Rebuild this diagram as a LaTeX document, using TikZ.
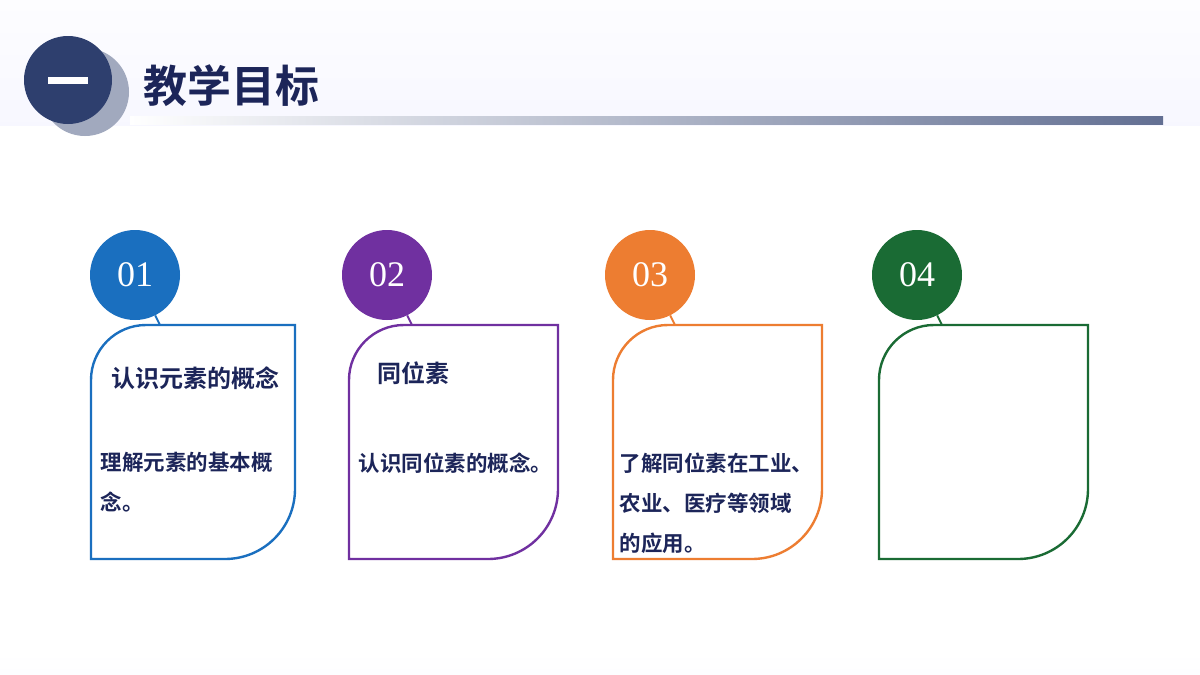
\documentclass[tikz,border=0pt]{standalone}
\usepackage{fontspec}
\newfontfamily\cjk{Noto Sans CJK SC Bold}
\setmainfont{Liberation Serif}
\definecolor{navy}{HTML}{2E3F6E}
\definecolor{txt}{HTML}{1C2559}
\definecolor{cA}{HTML}{1A6FBF}
\definecolor{cB}{HTML}{7030A0}
\definecolor{cC}{HTML}{ED7D31}
\definecolor{cD}{HTML}{1A6B34}
\begin{document}
\begin{tikzpicture}[x=1pt,y=-1pt,
  num/.style={circle,minimum size=90pt,inner sep=0pt,text=white,font=\fontsize{36}{36}\selectfont},
  ttl/.style={anchor=west,text=txt,font=\cjk\fontsize{24}{28}\selectfont},
  body/.style={anchor=north west,text=txt,align=left,font=\cjk\fontsize{21.5}{40}\selectfont}]
\useasboundingbox (0,0) rectangle (1200,675);
\fill[white] (0,0) rectangle (1200,675);
\shade[top color=white!90!blue!8,bottom color=white!97!blue] (0,0) rectangle (1200,125);
\shade[top color=white,bottom color=white!92!blue!10] (0,652) rectangle (1200,675);
\shade[left color=white,right color=navy!75] (130,116) rectangle (1163,124);
\fill[navy!45] (85,92) circle (44);
\node[circle,fill=navy,minimum size=88pt,inner sep=0pt] (hc) at (68,80) {};
\fill[white] (48,77) rectangle (88,84);
\node[anchor=west,text=txt,font=\cjk\fontsize{44}{46}\selectfont] (ht) at (140,86) {教学目标};
\foreach \x/\w/\c/\n/\cx in {91/204/cA/01/135,349/209/cB/02/387,613/209/cC/03/650,879/209/cD/04/917}{
  \draw[\c,line width=2.4pt] (\x+55,325) -- (\x+\w,325) -- (\x+\w,489) arc[start angle=0,end angle=90,radius=70] -- (\x,559) -- (\x,380) arc[start angle=180,end angle=270,radius=55] -- cycle;
  \node[num,fill=\c] (n\n) at (\cx,275) {\n};
  \coordinate (k\n) at (\cx+25,325);
  \draw[\c,line width=2pt] (n\n) -- (k\n);
}
\node[ttl] (t1) at (108,378) {认识元素的概念};
\node[body] (b1) at (97,449) {理解元素的基本概\\念。};
\node[ttl] (t2) at (374,373) {同位素};
\node[body] (b2) at (355,449) {认识同位素的概念。};
\node[body] (b3) at (616,449) {了解同位素在工业、\\农业、医疗等领域\\的应用。};
\end{tikzpicture}
\end{document}
